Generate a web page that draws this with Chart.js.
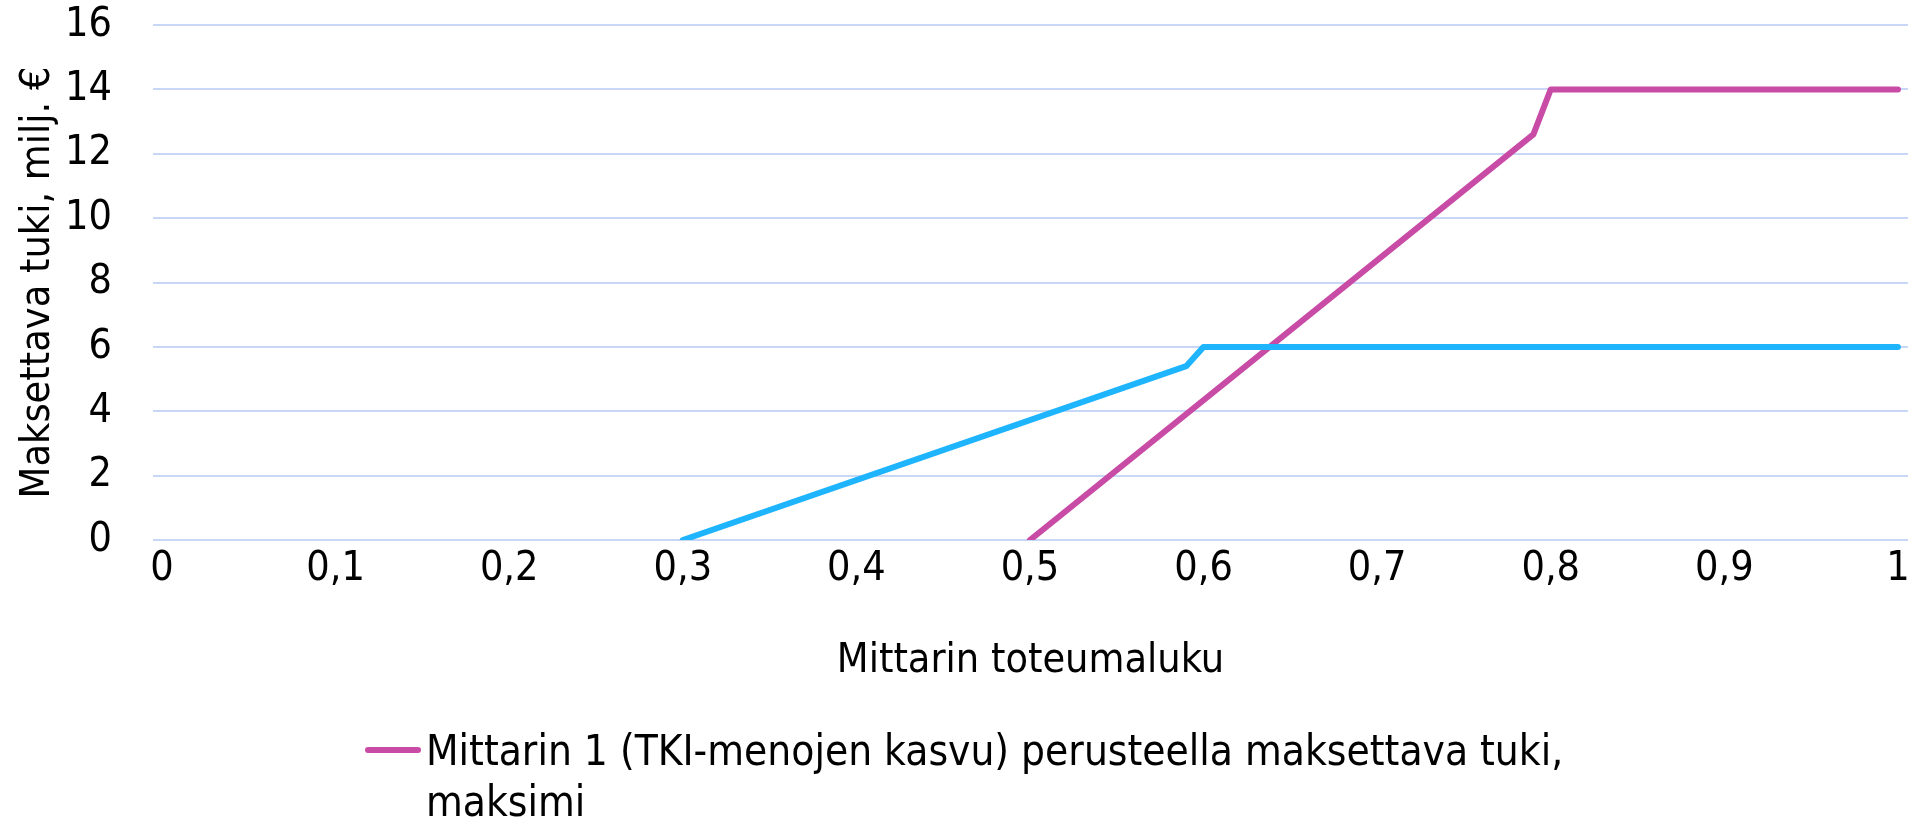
<!DOCTYPE html>
<html>
<head>
<meta charset="utf-8">
<script src="https://cdn.jsdelivr.net/npm/chart.js@4.4.0/dist/chart.umd.min.js"></script>
<style>
  html, body { margin: 0; padding: 0; background: #ffffff; width: 1915px; height: 819px; overflow: hidden; }
  #wrap { position: relative; width: 1915px; height: 819px; }
  #chart { position: absolute; left: 0; top: 0; }
  #legendSwatch { position: absolute; left: 365px; top: 747px; width: 56px; height: 6px; border-radius: 3px; }
  #legendText { position: absolute; left: 426px; top: 725px; width: 1280px; font-family: 'DejaVu Sans Condensed', 'DejaVu Sans', sans-serif; font-size: 42px; line-height: 51px; color: #000000; }
</style>
</head>
<body>
<div id="wrap">
  <canvas id="chart" width="1915" height="819"></canvas>
  <div id="legendSwatch"></div>
  <div id="legendText"></div>
</div>
<script>
// ---- data ----
const xTickValues = [0, 0.1, 0.2, 0.3, 0.4, 0.5, 0.6, 0.7, 0.8, 0.9, 1];
const xTickLabels = ['0', '0,1', '0,2', '0,3', '0,4', '0,5', '0,6', '0,7', '0,8', '0,9', '1'];
const yTickValues = [0, 2, 4, 6, 8, 10, 12, 14, 16];
const yTickLabels = ['0', '2', '4', '6', '8', '10', '12', '14', '16'];

const seriesLabels = [
  'Mittarin 1 (TKI-menojen kasvu) perusteella maksettava tuki, maksimi',
  'Mittarin 2 perusteella maksettava tuki, maksimi'
];
const metric1X = [0.5, 0.79, 0.8, 1];
const metric1Y = [0, 12.6, 14, 14];
const metric2X = [0.3, 0.59, 0.6, 1];
const metric2Y = [0, 5.4, 6, 6];

const xTitle = 'Mittarin toteumaluku';
const yTitle = 'Maksettava tuki, milj. €';

const seriesColors = ['#C84BA6', '#1EB4FE'];

// ---- chart ----
const FONT_FAMILY = "'DejaVu Sans Condensed', 'DejaVu Sans', sans-serif";
const tickFont = { family: FONT_FAMILY, size: 41 };
const titleFont = { family: FONT_FAMILY, size: 41 };

function pts(xs, ys) { return xs.map((x, i) => ({ x: x, y: ys[i] })); }

document.getElementById('legendSwatch').style.background = seriesColors[0];
document.getElementById('legendText').textContent = seriesLabels[0];

function lineDataset(i, xs, ys, order) {
  return {
    label: seriesLabels[i],
    data: pts(xs, ys),
    borderColor: seriesColors[i],
    backgroundColor: seriesColors[i],
    borderWidth: 6,
    pointRadius: 0,
    fill: false,
    tension: 0,
    borderJoinStyle: 'round',
    borderCapStyle: 'round',
    order: order
  };
}

new Chart(document.getElementById('chart'), {
  type: 'line',
  data: {
    datasets: [
      lineDataset(0, metric1X, metric1Y, 2),
      lineDataset(1, metric2X, metric2Y, 1)
    ]
  },
  options: {
    responsive: false,
    animation: false,
    devicePixelRatio: 1,
    layout: { padding: { top: 25, right: 7, bottom: 129, left: 0 } },
    plugins: {
      legend: { display: false },
      tooltip: { enabled: false }
    },
    scales: {
      x: {
        type: 'linear',
        min: -0.0052,
        max: 1.0058,
        afterBuildTicks: (s) => { s.ticks = xTickValues.map(v => ({ value: v })); },
        afterFit: (s) => { s.height = 150; },
        ticks: {
          autoSkip: false,
          maxRotation: 0,
          minRotation: 0,
          padding: 5,
          color: '#000000',
          font: tickFont,
          callback: (v, i) => xTickLabels[i]
        },
        grid: { display: false, drawTicks: false },
        border: { display: false },
        title: {
          display: true,
          text: xTitle,
          color: '#000000',
          font: titleFont,
          padding: { top: 0, bottom: 4 }
        }
      },
      y: {
        type: 'linear',
        min: 0,
        max: 16,
        afterBuildTicks: (s) => { s.ticks = yTickValues.map(v => ({ value: v })); },
        afterFit: (s) => { s.width = 153; s.paddingTop = 0; s.paddingBottom = 0; },
        ticks: {
          padding: 41,
          color: '#000000',
          font: tickFont,
          callback: (v, i) => yTickLabels[i]
        },
        grid: { color: '#C8D7F6', lineWidth: 2, drawTicks: false },
        border: { display: false },
        title: {
          display: true,
          text: yTitle,
          color: '#000000',
          font: titleFont,
          padding: { top: 14, bottom: 0 }
        }
      }
    }
  }
});
</script>
</body>
</html>
